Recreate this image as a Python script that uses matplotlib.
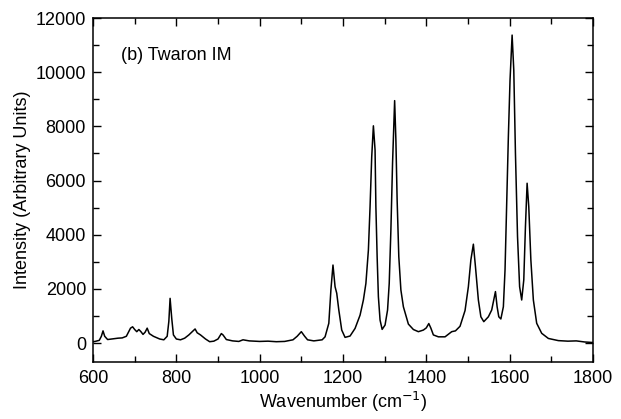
import numpy as np
from matplotlib import pyplot as plt
from matplotlib.ticker import MultipleLocator

# spectrum (wavenumber in cm^-1, intensity in arb. units)
wavenumber = [
    600, 605, 615, 620, 624, 628, 635, 650, 660, 670, 680, 690, 695, 700, 705,
    710, 715, 720, 725, 730, 735, 745, 760, 770, 778, 782, 785, 789, 793, 800,
    810, 820, 830, 838, 845, 850, 858, 870, 880, 890, 900, 908, 912, 920, 935,
    950, 960, 975, 1000, 1020, 1040, 1060, 1080, 1090, 1100, 1108, 1115, 1130,
    1150, 1157, 1166, 1171, 1176, 1181, 1185, 1190, 1197, 1205, 1217, 1229,
    1241, 1249, 1255, 1261, 1265, 1269, 1273, 1277, 1279, 1282, 1285, 1289,
    1294, 1301, 1307, 1311, 1315, 1319, 1324, 1327, 1330, 1334, 1339, 1345,
    1357, 1369, 1381, 1393, 1400, 1406, 1411, 1417, 1429, 1445, 1461, 1470,
    1481, 1493, 1501, 1507, 1513, 1518, 1525, 1531, 1538, 1549, 1557, 1562,
    1566, 1570, 1574, 1579, 1585, 1589, 1593, 1597, 1601, 1606, 1610, 1614,
    1619, 1624, 1629, 1634, 1638, 1642, 1646, 1651, 1657, 1665, 1677, 1693,
    1717, 1740, 1760, 1780, 1800,
]
intensity = [
    50, 60, 100, 250, 450, 250, 130, 160, 180, 190, 250, 550, 600, 500, 420,
    500, 420, 320, 400, 550, 350, 250, 150, 120, 250, 800, 1650, 900, 300, 150,
    120, 180, 300, 420, 520, 380, 300, 150, 50, 70, 150, 350, 300, 130, 80,
    60, 120, 80, 60, 70, 50, 60, 120, 250, 420, 250, 120, 80,
    120, 230, 730, 1960, 2880, 2080, 1840, 1220, 480, 210, 260, 540,
    1030, 1590, 2200, 3430, 5030, 6880, 8020, 7130, 5030, 3190, 1710, 850,
    505, 665, 1220, 2200, 4170, 6640, 8950, 7500, 5280, 3190, 1960, 1340,
    700, 500, 420, 480, 560, 720, 550, 300, 230, 230, 420, 450,
    620, 1200, 2080, 3070, 3650, 2820, 1590, 970, 790, 970, 1220, 1590,
    1900, 1340, 970, 890, 1340, 2700, 5160, 7620, 9710, 11370, 10080, 7000,
    3930, 2080, 1590, 2330, 4300, 5900, 5030, 3070, 1590, 730, 360, 170,
    90, 70, 80, 40, 20,
]

plt.rcParams["font.family"] = ["Liberation Sans", "DejaVu Sans"]

fig = plt.figure(figsize=(6.21, 4.19), dpi=100)
ax = fig.add_axes([0.1498, 0.136, 0.805, 0.821])

ax.plot(wavenumber, intensity, color="black", lw=1.1)

ax.set_xlim(600, 1800)
ax.set_ylim(-700, 12000)
ax.xaxis.set_major_locator(MultipleLocator(200))
ax.xaxis.set_minor_locator(MultipleLocator(100))
ax.yaxis.set_major_locator(MultipleLocator(2000))
ax.yaxis.set_minor_locator(MultipleLocator(1000))
ax.tick_params(which="both", direction="in", top=True, right=True,
               labelsize=13, width=1, pad=5)
ax.tick_params(axis="x", which="both", pad=6)
ax.tick_params(which="major", length=6)
ax.tick_params(which="minor", length=4)
for s in ax.spines.values():
    s.set_linewidth(1.1)

ax.set_xlabel("Wavenumber (cm$^{-1}$)", fontsize=13, labelpad=2)
ax.set_ylabel("Intensity (Arbitrary Units)", fontsize=13, labelpad=3)
ax.text(0.055, 0.89, "(b) Twaron IM", transform=ax.transAxes, fontsize=13,
        va="center")

fig.savefig("out.png", dpi=100)
